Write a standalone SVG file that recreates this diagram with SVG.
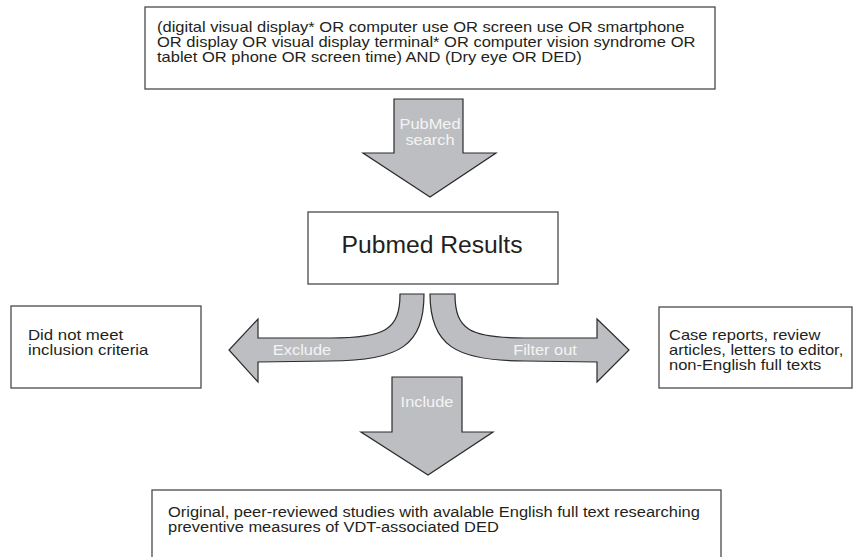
<svg xmlns="http://www.w3.org/2000/svg" width="854" height="557" viewBox="0 0 854 557">
<style>
.box{fill:#fff;stroke:#4a4a4a;stroke-width:1.3}
.arr{fill:#bdbec1;stroke:#2b2b2b;stroke-width:1.2;stroke-linejoin:miter}
.t{font-family:"Liberation Sans",Arial,sans-serif;font-size:14px;fill:#231f20}
.w{font-family:"Liberation Sans",Arial,sans-serif;font-size:14.5px;fill:#f4f4f4;text-anchor:middle}
</style>
<rect width="854" height="557" fill="#fff"/>
<g id="connectors">
<g id="arrow-search">
<path class="arr" d="M394,99 L463,99 L463,153 L496,153 L430,197 L363,153 L394,153 Z"/>
<g transform="translate(430,0) scale(1.13,1)">
<text class="w" x="0" y="129">PubMed</text>
<text class="w" x="0" y="145">search</text>
</g>
</g>
<g id="arrow-exclude">
<path class="arr" d="M400,294 L424,294 C424,345 400,361 330,361 L258,362 L258,382 L229,350 L258,319 L258,338 L330,338 C385,338 400,330 400,294 Z"/>
<text class="w" x="0" y="355" transform="translate(302,0) scale(1.13,1)">Exclude</text>
</g>
<g id="arrow-filter">
<path class="arr" d="M455,294 L430,294 C430,345 455,361 525,361 L597,362 L597,382 L629,350 L597,319 L597,338 L525,338 C470,338 455,330 455,294 Z"/>
<text class="w" x="0" y="355" transform="translate(545,0) scale(1.13,1)">Filter out</text>
</g>
<g id="arrow-include">
<path class="arr" d="M392,377 L462,377 L462,432 L493,432 L428,475 L361,432 L392,432 Z"/>
<text class="w" x="0" y="407" transform="translate(427,0) scale(1.13,1)">Include</text>
</g>
</g>
<g id="node-query">
<rect class="box" x="145" y="7" width="570" height="82"/>
<g transform="translate(157,0) scale(1.18,1)">
<text class="t" x="0" y="32">(digital visual display* OR computer use OR screen use OR smartphone</text>
<text class="t" x="0" y="47">OR display OR visual display terminal* OR computer vision syndrome OR</text>
<text class="t" x="0" y="62">tablet OR phone OR screen time) AND (Dry eye OR DED)</text>
</g>
</g>
<g id="node-results">
<rect class="box" x="308" y="212" width="250" height="72"/>
<text class="t" x="0" y="253" style="font-size:23.5px;text-anchor:middle" transform="translate(432,0) scale(1.05,1)">Pubmed Results</text>
</g>
<g id="node-excluded">
<rect class="box" x="11" y="306" width="190" height="82"/>
<g transform="translate(28,0) scale(1.2,1)">
<text class="t" x="0" y="340">Did not meet</text>
<text class="t" x="0" y="355">inclusion criteria</text>
</g>
</g>
<g id="node-filtered">
<rect class="box" x="659" y="307" width="193" height="81"/>
<g transform="translate(669,0) scale(1.18,1)">
<text class="t" x="0" y="340">Case reports, review</text>
<text class="t" x="0" y="355">articles, letters to editor,</text>
<text class="t" x="0" y="370">non-English full texts</text>
</g>
</g>
<g id="node-included">
<rect class="box" x="152" y="490" width="569" height="80"/>
<g transform="translate(168,0) scale(1.175,1)">
<text class="t" x="0" y="517">Original, peer-reviewed studies with avalable English full text researching</text>
<text class="t" x="0" y="532">preventive measures of VDT-associated DED</text>
</g>
</g>
</svg>
